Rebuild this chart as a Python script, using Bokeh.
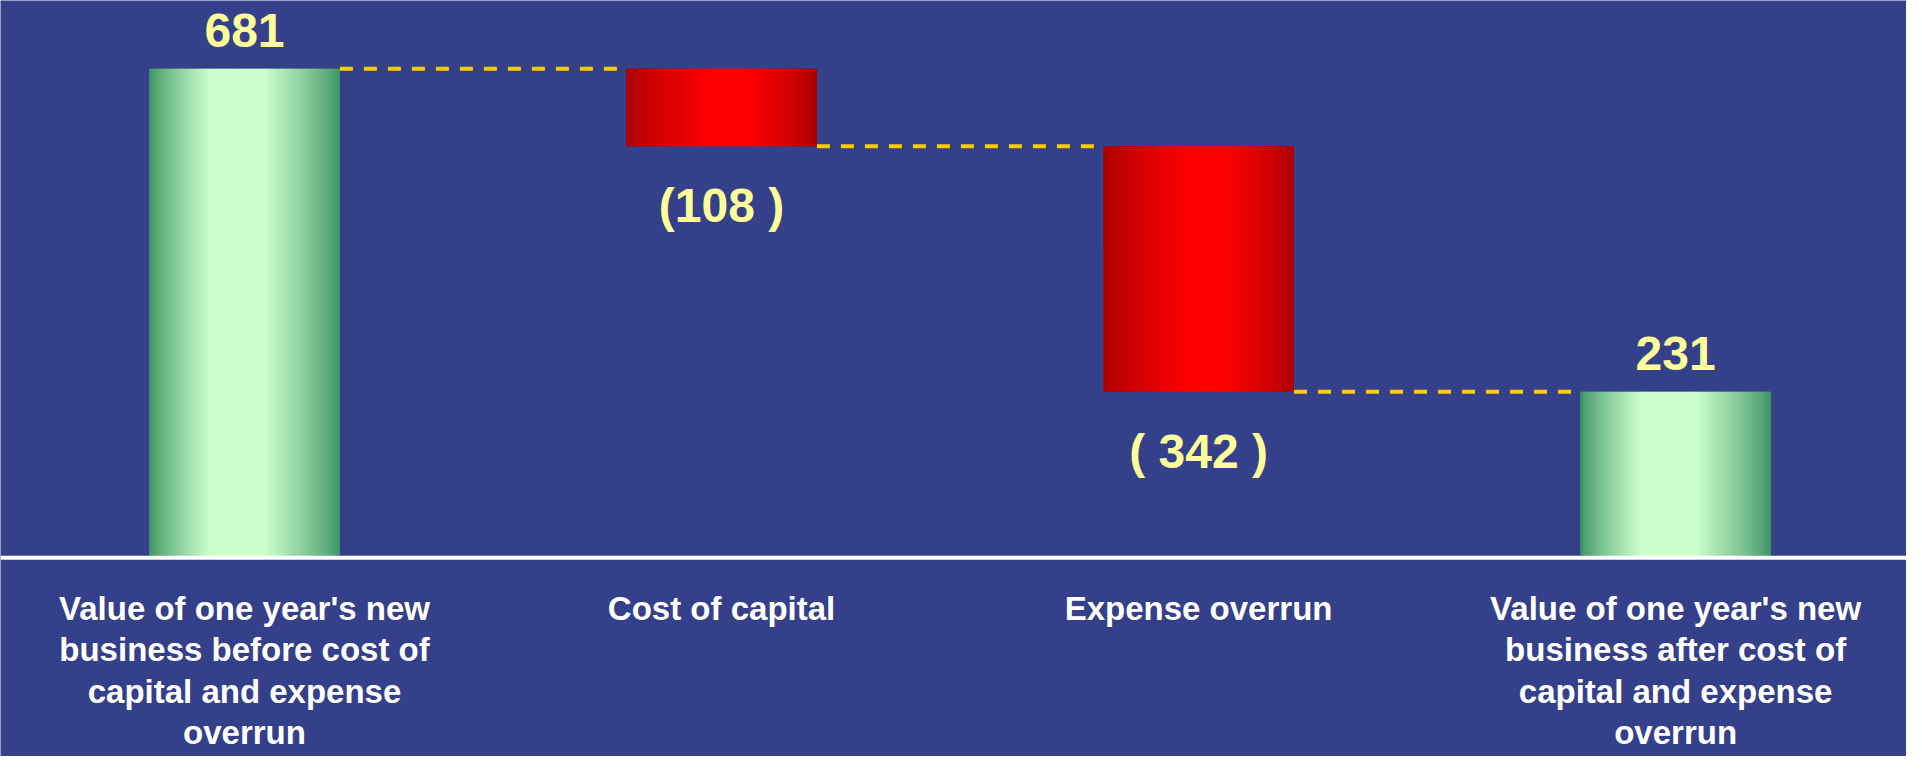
import numpy as np
from bokeh.plotting import figure
from bokeh.models import Range1d, Span
from bokeh.core.properties import value
from bokeh.embed import file_html
from bokeh.resources import INLINE

# ---- data ----
categories = [
    "Value of one year's new\nbusiness before cost of\ncapital and expense\noverrun",
    "Cost of capital",
    "Expense overrun",
    "Value of one year's new\nbusiness after cost of\ncapital and expense\noverrun",
]
amounts = [681, -108, -342, 231]
kinds = ["total", "delta", "delta", "total"]
value_labels = ["681", "(108 )", "( 342 )", "231"]

# ---- waterfall geometry from data ----
xs = list(range(len(categories)))
bottoms, tops = [], []
running = 0
for a, k in zip(amounts, kinds):
    if k == "total":
        bottoms.append(0)
        tops.append(a)
        running = a
    else:
        tops.append(running)
        bottoms.append(running + a)
        running += a

BAR_W = 0.40
BG = "#34408a"

p = figure(width=1906, height=756, output_backend="svg", toolbar_location=None,
           x_range=Range1d(-0.5115, 3.484), y_range=Range1d(-277, 776),
           min_border=0, background_fill_color=BG, border_fill_color=BG,
           outline_line_color=None)
p.axis.visible = False
p.grid.visible = False


def lerp(c1, c2, t):
    return "#%02x%02x%02x" % tuple(int(round(a + (b - a) * t)) for a, b in zip(c1, c2))


def profile(t, lo, hi):
    if t < lo:
        return t / lo
    if t > hi:
        return (1 - t) / (1 - hi)
    return 1.0


GREEN_D, GREEN_L = (58, 146, 98), (204, 255, 204)
RED_D, RED_L = (170, 0, 0), (255, 0, 0)

N = 80
left, right, bot, top, cols = [], [], [], [], []
for x, b, t, k in zip(xs, bottoms, tops, kinds):
    x0 = x - BAR_W / 2
    dw = BAR_W / N
    for j in range(N):
        tt = (j + 0.5) / N
        if k == "total":
            c = lerp(GREEN_D, GREEN_L, profile(tt, 0.32, 0.6) ** 0.8)
        else:
            c = lerp(RED_D, RED_L, profile(tt, 0.46, 0.62) ** 0.8)
        left.append(x0 + j * dw)
        right.append(x0 + min(j + 1.6, N) * dw)
        bot.append(b)
        top.append(t)
        cols.append(c)

p.quad(left=left, right=right, bottom=bot, top=top, fill_color=cols,
       line_color=None)

# connectors
cx0, cx1, cy = [], [], []
for i in range(len(xs) - 1):
    level = tops[i] if kinds[i] == "total" else bottoms[i]
    cx0.append(xs[i] + BAR_W / 2)
    cx1.append(xs[i + 1] - BAR_W / 2)
    cy.append(level)
p.segment(x0=cx0, y0=cy, x1=cx1, y1=cy, line_color="#ffcc00", line_width=4,
          line_dash="13 11")

# baseline
p.add_layout(Span(location=0, dimension="width", line_color="white", line_width=4))

# value labels
tot_x = [x for x, k in zip(xs, kinds) if k == "total"]
tot_y = [t for t, k in zip(tops, kinds) if k == "total"]
tot_l = [l for l, k in zip(value_labels, kinds) if k == "total"]
del_x = [x for x, k in zip(xs, kinds) if k == "delta"]
del_y = [b for b, k in zip(bottoms, kinds) if k == "delta"]
del_l = [l for l, k in zip(value_labels, kinds) if k == "delta"]

p.text(x=tot_x, y=tot_y, text=tot_l, text_color="#ffff99",
       text_font=value("Liberation Sans"), text_font_style="bold",
       text_font_size="48px", text_align="center", text_baseline="bottom",
       y_offset=-22)
p.text(x=del_x, y=del_y, text=del_l, text_color="#ffff99",
       text_font=value("Liberation Sans"), text_font_style="bold",
       text_font_size="48px", text_align="center", text_baseline="top",
       y_offset=33)

# category labels
p.text(x=xs, y=[0] * len(xs), text=categories, text_color="white",
       text_font=value("Liberation Sans"), text_font_style="bold",
       text_font_size="33px", text_align="center", text_baseline="top",
       text_line_height=1.12, y_offset=32)

open("out.html", "w").write(file_html(p, INLINE))
